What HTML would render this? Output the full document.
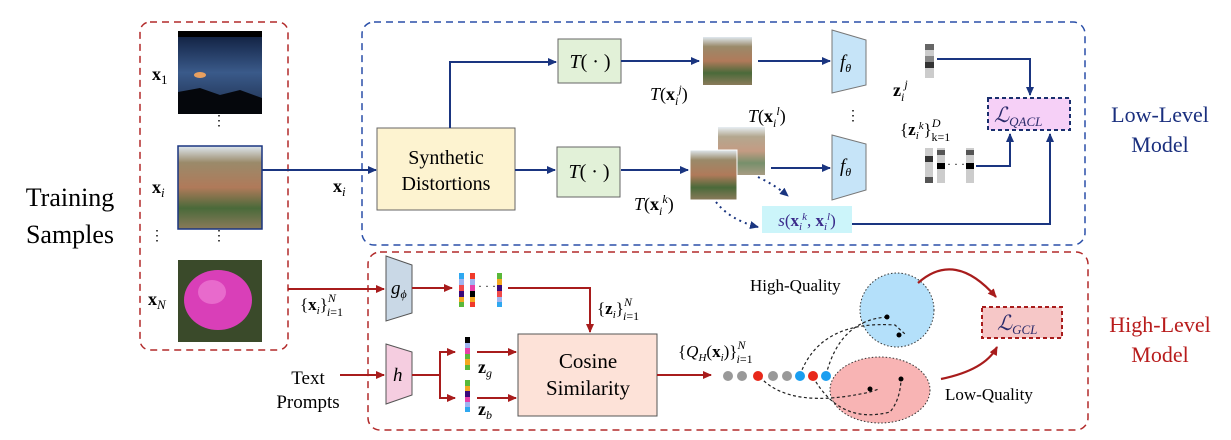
<!DOCTYPE html>
<html><head><meta charset="utf-8"><style>
html,body{margin:0;padding:0;background:#fff;}
svg{display:block;font-family:"Liberation Serif",serif;}
</style></head><body>
<svg width="1231" height="440" viewBox="0 0 1231 440" xmlns="http://www.w3.org/2000/svg">
<defs>
<marker id="ab" markerWidth="10" markerHeight="10" refX="8" refY="5" orient="auto" markerUnits="userSpaceOnUse"><path d="M0,1 L9,5 L0,9 Z" fill="#1a3580"/></marker>
<marker id="ar" markerWidth="10" markerHeight="10" refX="8" refY="5" orient="auto" markerUnits="userSpaceOnUse"><path d="M0,1 L9,5 L0,9 Z" fill="#a81c1c"/></marker>
<linearGradient id="sky" x1="0" y1="0" x2="0" y2="1"><stop offset="0" stop-color="#0d1b3a"/><stop offset="0.5" stop-color="#3a5a8a"/><stop offset="1" stop-color="#1c2c4a"/></linearGradient>
<linearGradient id="land" x1="0" y1="0" x2="0" y2="1"><stop offset="0" stop-color="#dfe8ef"/><stop offset="0.2" stop-color="#9a8a6a"/><stop offset="0.5" stop-color="#b07a5a"/><stop offset="0.75" stop-color="#4a6a3a"/><stop offset="1" stop-color="#8a7a5a"/></linearGradient>
</defs>

<!-- Training Samples -->
<text x="70" y="206" font-size="26" text-anchor="middle">Training</text>
<text x="70" y="243" font-size="26" text-anchor="middle">Samples</text>

<!-- left box -->
<rect x="140" y="22" width="148" height="328" rx="10" fill="none" stroke="#b22a2a" stroke-width="1.5" stroke-dasharray="7,5"/>
<rect x="178" y="31" width="84" height="83" fill="url(#sky)"/>
<rect x="178" y="31" width="84" height="6" fill="#000"/>
<path d="M178,92 L200,88 L220,95 L240,90 L262,98 L262,114 L178,114 Z" fill="#05070c"/>
<ellipse cx="200" cy="75" rx="6" ry="3" fill="#e8a060"/>
<rect x="178" y="146" width="84" height="83" fill="url(#land)" stroke="#1a3580" stroke-width="1.5"/>
<rect x="178" y="260" width="84" height="82" fill="#3a4a2a"/>
<ellipse cx="218" cy="300" rx="34" ry="30" fill="#d93fb8"/>
<ellipse cx="212" cy="292" rx="14" ry="12" fill="#e86acc"/>
<text x="152" y="80" font-size="18" font-weight="bold">x<tspan font-size="13" font-weight="normal" dy="4">1</tspan></text>
<text x="152" y="193" font-size="18" font-weight="bold">x<tspan font-size="13" font-weight="normal" font-style="italic" dy="4">i</tspan></text>
<text x="148" y="305" font-size="18" font-weight="bold">x<tspan font-size="13" font-weight="normal" font-style="italic" dy="4">N</tspan></text>
<text x="219" y="125" font-size="14" text-anchor="middle">⋮</text>
<text x="219" y="240" font-size="14" text-anchor="middle">⋮</text>
<text x="157" y="240" font-size="14" text-anchor="middle">⋮</text>

<!-- blue box -->
<rect x="362" y="22" width="723" height="223" rx="12" fill="none" stroke="#2a4fa8" stroke-width="1.5" stroke-dasharray="7,5"/>
<line x1="262" y1="170" x2="376" y2="170" stroke="#1a3580" stroke-width="2" marker-end="url(#ab)"/>
<text x="333" y="192" font-size="18" font-weight="bold">x<tspan font-size="13" font-weight="normal" font-style="italic" dy="4">i</tspan></text>

<rect x="377" y="128" width="138" height="82" fill="#fdf3d0" stroke="#666" stroke-width="1"/>
<text x="446" y="164" font-size="20" text-anchor="middle">Synthetic</text>
<text x="446" y="190" font-size="20" text-anchor="middle">Distortions</text>

<polyline points="450,128 450,62 556,62" fill="none" stroke="#1a3580" stroke-width="2" marker-end="url(#ab)"/>
<line x1="515" y1="170" x2="555" y2="170" stroke="#1a3580" stroke-width="2" marker-end="url(#ab)"/>
<rect x="558" y="39" width="63" height="44" fill="#e2f1d8" stroke="#666"/>
<text x="590" y="68" font-size="20" text-anchor="middle"><tspan font-style="italic">T</tspan>( · )</text>
<rect x="557" y="147" width="63" height="50" fill="#e2f1d8" stroke="#666"/>
<text x="589" y="178" font-size="20" text-anchor="middle"><tspan font-style="italic">T</tspan>( · )</text>

<line x1="621" y1="61" x2="699" y2="61" stroke="#1a3580" stroke-width="2" marker-end="url(#ab)"/>
<rect x="703" y="37" width="49" height="48" fill="url(#land)"/>
<text x="650" y="100" font-size="18"><tspan font-style="italic">T</tspan>(<tspan font-weight="bold">x</tspan><tspan font-size="12" font-style="italic" dy="5">i</tspan><tspan font-size="12" font-style="italic" dy="-12">j</tspan><tspan dy="7">)</tspan></text>
<line x1="758" y1="61" x2="830" y2="61" stroke="#1a3580" stroke-width="2" marker-end="url(#ab)"/>

<line x1="621" y1="170" x2="688" y2="170" stroke="#1a3580" stroke-width="2" marker-end="url(#ab)"/>
<rect x="718" y="127" width="47" height="48" fill="url(#land)" opacity="0.75"/>
<rect x="690" y="150" width="47" height="50" fill="url(#land)" stroke="#fff" stroke-width="1"/>
<text x="748" y="122" font-size="18"><tspan font-style="italic">T</tspan>(<tspan font-weight="bold">x</tspan><tspan font-size="12" font-style="italic" dy="5">i</tspan><tspan font-size="12" font-style="italic" dy="-12">l</tspan><tspan dy="7">)</tspan></text>
<text x="634" y="210" font-size="18"><tspan font-style="italic">T</tspan>(<tspan font-weight="bold">x</tspan><tspan font-size="12" font-style="italic" dy="5">i</tspan><tspan font-size="12" font-style="italic" dy="-12">k</tspan><tspan dy="7">)</tspan></text>
<line x1="771" y1="168" x2="830" y2="168" stroke="#1a3580" stroke-width="2" marker-end="url(#ab)"/>
<path d="M758,177 Q775,185 788,196" fill="none" stroke="#1a3580" stroke-width="2" stroke-dasharray="2,4" marker-end="url(#ab)"/>
<path d="M716,202 Q730,220 758,227" fill="none" stroke="#1a3580" stroke-width="2" stroke-dasharray="2,4" marker-end="url(#ab)"/>

<polygon points="832,30 866,40 866,85 832,93" fill="#c6e4f8" stroke="#777"/>
<text x="840" y="68" font-size="19" font-style="italic">f<tspan font-size="12" dy="4">θ</tspan></text>
<polygon points="832,135 866,144 866,190 832,200" fill="#c6e4f8" stroke="#777"/>
<text x="840" y="172" font-size="19" font-style="italic">f<tspan font-size="12" dy="4">θ</tspan></text>
<text x="846" y="120" font-size="14">⋮</text>

<rect x="762" y="206" width="90" height="27" fill="#ccf5fa"/>
<text x="807" y="226" font-size="17" fill="#3a2a8a" text-anchor="middle"><tspan font-style="italic">s</tspan>(<tspan font-weight="bold">x</tspan><tspan font-size="11" font-style="italic" dy="4">i</tspan><tspan font-size="11" font-style="italic" dy="-10">k</tspan><tspan dy="6">, </tspan><tspan font-weight="bold">x</tspan><tspan font-size="11" font-style="italic" dy="4">i</tspan><tspan font-size="11" font-style="italic" dy="-10">l</tspan><tspan dy="6">)</tspan></text>
<polyline points="852,224 1050,224 1050,134" fill="none" stroke="#1a3580" stroke-width="2" marker-end="url(#ab)"/>

<!-- z vectors -->
<g>
<rect x="925" y="44" width="9" height="34" fill="#ccc"/>
<rect x="925" y="44" width="9" height="6" fill="#666"/><rect x="925" y="62" width="9" height="6" fill="#333"/><rect x="925" y="56" width="9" height="6" fill="#888"/>
</g>
<text x="893" y="96" font-size="18" font-weight="bold">z<tspan font-size="12" font-weight="normal" font-style="italic" dy="5">i</tspan><tspan font-size="12" font-weight="normal" font-style="italic" dy="-13">j</tspan></text>
<polyline points="937,59 1030,59 1030,95" fill="none" stroke="#1a3580" stroke-width="2" marker-end="url(#ab)"/>
<g>
<rect x="925" y="148" width="8" height="35" fill="#ccc"/><rect x="925" y="156" width="8" height="6" fill="#333"/><rect x="925" y="177" width="8" height="6" fill="#555"/>
<rect x="937" y="148" width="8" height="35" fill="#ccc"/><rect x="937" y="150" width="8" height="5" fill="#555"/><rect x="937" y="163" width="8" height="6" fill="#000"/>
<rect x="966" y="148" width="8" height="35" fill="#ccc"/><rect x="966" y="150" width="8" height="5" fill="#555"/><rect x="966" y="163" width="8" height="6" fill="#000"/>
<text x="947" y="168" font-size="12">· · ·</text>
</g>
<text x="900" y="135" font-size="17">{<tspan font-weight="bold">z</tspan><tspan font-size="11" font-style="italic" dy="4">i</tspan><tspan font-size="11" font-style="italic" dy="-10">k</tspan><tspan dy="6">}</tspan><tspan font-size="12" font-style="italic" dy="-8">D</tspan><tspan font-size="12" dx="-9" dy="14">k=1</tspan></text>
<polyline points="976,166 1010,166 1010,134" fill="none" stroke="#1a3580" stroke-width="2" marker-end="url(#ab)"/>
<rect x="988" y="98" width="82" height="32" fill="#f6d0f7" stroke="#1a2f6e" stroke-width="2" stroke-dasharray="4,3"/>
<text x="994" y="122" font-size="21" font-style="italic" fill="#2a2a6a">ℒ<tspan font-size="13" dy="4">QACL</tspan></text>

<text x="1160" y="122" font-size="22" fill="#1a2f7e" text-anchor="middle">Low-Level</text>
<text x="1160" y="152" font-size="22" fill="#1a2f7e" text-anchor="middle">Model</text>

<!-- red box -->
<rect x="368" y="252" width="720" height="178" rx="12" fill="none" stroke="#b22a2a" stroke-width="1.5" stroke-dasharray="7,5"/>
<line x1="288" y1="289" x2="384" y2="289" stroke="#a81c1c" stroke-width="2" marker-end="url(#ar)"/>
<text x="300" y="310" font-size="17">{<tspan font-weight="bold">x</tspan><tspan font-size="11" font-style="italic" dy="4">i</tspan><tspan dy="-4">}</tspan><tspan font-size="12" font-style="italic" dy="-8">N</tspan><tspan font-size="12" font-style="italic" dx="-9" dy="14">i</tspan><tspan font-size="12">=1</tspan></text>
<polygon points="386,256 412,265 412,313 386,321" fill="#c9d8e6" stroke="#555"/>
<text x="391" y="294" font-size="19" font-style="italic">g<tspan font-size="12" dy="4">ϕ</tspan></text>
<line x1="412" y1="288" x2="452" y2="288" stroke="#a81c1c" stroke-width="2" marker-end="url(#ar)"/>
<g>
<rect x="459" y="273" width="5" height="6" fill="#2fa8f0"/><rect x="459" y="279" width="5" height="6" fill="#9fb4f0"/><rect x="459" y="285" width="5" height="6" fill="#f04a4a"/><rect x="459" y="291" width="5" height="6" fill="#3a0a7a"/><rect x="459" y="297" width="5" height="5" fill="#f4a820"/><rect x="459" y="302" width="5" height="5" fill="#5ab83a"/>
<rect x="470" y="273" width="5" height="6" fill="#f03a2a"/><rect x="470" y="279" width="5" height="6" fill="#9fb4f0"/><rect x="470" y="285" width="5" height="6" fill="#e840a8"/><rect x="470" y="291" width="5" height="6" fill="#000"/><rect x="470" y="297" width="5" height="5" fill="#f4a820"/><rect x="470" y="302" width="5" height="5" fill="#f03a2a"/>
<rect x="497" y="273" width="5" height="6" fill="#5ab83a"/><rect x="497" y="279" width="5" height="6" fill="#f4a820"/><rect x="497" y="285" width="5" height="6" fill="#3a0a7a"/><rect x="497" y="291" width="5" height="6" fill="#f04a4a"/><rect x="497" y="297" width="5" height="5" fill="#9fb4f0"/><rect x="497" y="302" width="5" height="5" fill="#2fa8f0"/>
<text x="478" y="290" font-size="12">· · ·</text>
</g>
<polyline points="508,288 590,288 590,332" fill="none" stroke="#a81c1c" stroke-width="2" marker-end="url(#ar)"/>
<text x="597" y="314" font-size="17">{<tspan font-weight="bold">z</tspan><tspan font-size="11" font-style="italic" dy="4">i</tspan><tspan dy="-4">}</tspan><tspan font-size="12" font-style="italic" dy="-8">N</tspan><tspan font-size="12" font-style="italic" dx="-9" dy="14">i</tspan><tspan font-size="12">=1</tspan></text>

<text x="308" y="384" font-size="19" text-anchor="middle">Text</text>
<text x="308" y="408" font-size="19" text-anchor="middle">Prompts</text>
<line x1="340" y1="375" x2="384" y2="375" stroke="#a81c1c" stroke-width="2" marker-end="url(#ar)"/>
<polygon points="386,344 412,352 412,395 386,404" fill="#f5cde0" stroke="#555"/>
<text x="393" y="381" font-size="19" font-style="italic">h</text>
<polyline points="412,375 440,375" fill="none" stroke="#a81c1c" stroke-width="2"/>
<polyline points="440,375 440,352 455,352" fill="none" stroke="#a81c1c" stroke-width="2" marker-end="url(#ar)"/>
<polyline points="440,375 440,398 455,398" fill="none" stroke="#a81c1c" stroke-width="2" marker-end="url(#ar)"/>
<g>
<rect x="465" y="337" width="5" height="6" fill="#000"/><rect x="465" y="343" width="5" height="5" fill="#9fb4f0"/><rect x="465" y="348" width="5" height="6" fill="#e840a8"/><rect x="465" y="354" width="5" height="5" fill="#5ab83a"/><rect x="465" y="359" width="5" height="6" fill="#f4a820"/><rect x="465" y="365" width="5" height="5" fill="#5ab83a"/>
<rect x="465" y="380" width="5" height="6" fill="#5ab83a"/><rect x="465" y="386" width="5" height="5" fill="#f4a820"/><rect x="465" y="391" width="5" height="6" fill="#3a0a7a"/><rect x="465" y="397" width="5" height="5" fill="#e840a8"/><rect x="465" y="402" width="5" height="5" fill="#9fb4f0"/><rect x="465" y="407" width="5" height="5" fill="#2fa8f0"/>
</g>
<line x1="477" y1="352" x2="516" y2="352" stroke="#a81c1c" stroke-width="2" marker-end="url(#ar)"/>
<line x1="477" y1="398" x2="516" y2="398" stroke="#a81c1c" stroke-width="2" marker-end="url(#ar)"/>
<text x="478" y="373" font-size="18" font-weight="bold">z<tspan font-size="12" font-weight="normal" font-style="italic" dy="4">g</tspan></text>
<text x="478" y="415" font-size="18" font-weight="bold">z<tspan font-size="12" font-weight="normal" font-style="italic" dy="4">b</tspan></text>

<rect x="518" y="334" width="139" height="82" fill="#fde2d8" stroke="#555"/>
<text x="588" y="368" font-size="21" text-anchor="middle">Cosine</text>
<text x="588" y="395" font-size="21" text-anchor="middle">Similarity</text>
<line x1="657" y1="375" x2="711" y2="375" stroke="#a81c1c" stroke-width="2" marker-end="url(#ar)"/>
<text x="678" y="357" font-size="17">{<tspan font-style="italic">Q</tspan><tspan font-size="11" font-style="italic" dy="4">H</tspan><tspan dy="-4">(</tspan><tspan font-weight="bold">x</tspan><tspan font-size="11" font-style="italic" dy="4">i</tspan><tspan dy="-4">)}</tspan><tspan font-size="12" font-style="italic" dy="-8">N</tspan><tspan font-size="12" font-style="italic" dx="-9" dy="14">i</tspan><tspan font-size="12">=1</tspan></text>

<!-- clusters -->
<circle cx="897" cy="310" r="37" fill="#b4e0fa" stroke="#333" stroke-width="1" stroke-dasharray="1.5,2"/>
<ellipse cx="880" cy="390" rx="50" ry="33" fill="#f8b4b4" stroke="#333" stroke-width="1" stroke-dasharray="1.5,2"/>
<g fill="none" stroke="#222" stroke-width="1.2" stroke-dasharray="3,2.5">
<path d="M800,375 Q820,320 895,325 L905,334"/>
<path d="M826,375 Q840,320 887,317"/>
<path d="M760,377 Q790,410 870,392 L879,389"/>
<path d="M813,377 Q840,425 890,412 Q900,400 901,380"/>
</g>
<g fill="#000"><circle cx="887" cy="317" r="2.5"/><circle cx="899" cy="335" r="2.5"/><circle cx="870" cy="389" r="2.5"/><circle cx="901" cy="379" r="2.5"/></g>
<g>
<circle cx="728" cy="376" r="5" fill="#999"/><circle cx="742" cy="376" r="5" fill="#999"/><circle cx="758" cy="376" r="5" fill="#e8281a"/><circle cx="773" cy="376" r="5" fill="#999"/><circle cx="787" cy="376" r="5" fill="#999"/><circle cx="800" cy="376" r="5" fill="#1a9ef0"/><circle cx="813" cy="376" r="5" fill="#e8281a"/><circle cx="826" cy="376" r="5" fill="#1a9ef0"/>
</g>
<text x="750" y="291" font-size="17">High-Quality</text>
<text x="945" y="400" font-size="17">Low-Quality</text>
<path d="M918,283 Q955,250 996,297" fill="none" stroke="#a81c1c" stroke-width="2.2" marker-end="url(#ar)"/>
<path d="M941,379 Q985,370 997,347" fill="none" stroke="#a81c1c" stroke-width="2.2" marker-end="url(#ar)"/>
<rect x="982" y="307" width="80" height="31" fill="#f6c7c7" stroke="#a81c1c" stroke-width="2" stroke-dasharray="4,3"/>
<text x="997" y="330" font-size="21" font-style="italic" fill="#2a2a6a">ℒ<tspan font-size="13" dy="4">GCL</tspan></text>

<text x="1160" y="332" font-size="22" fill="#b81c1c" text-anchor="middle">High-Level</text>
<text x="1160" y="362" font-size="22" fill="#b81c1c" text-anchor="middle">Model</text>
</svg>
</body></html>
